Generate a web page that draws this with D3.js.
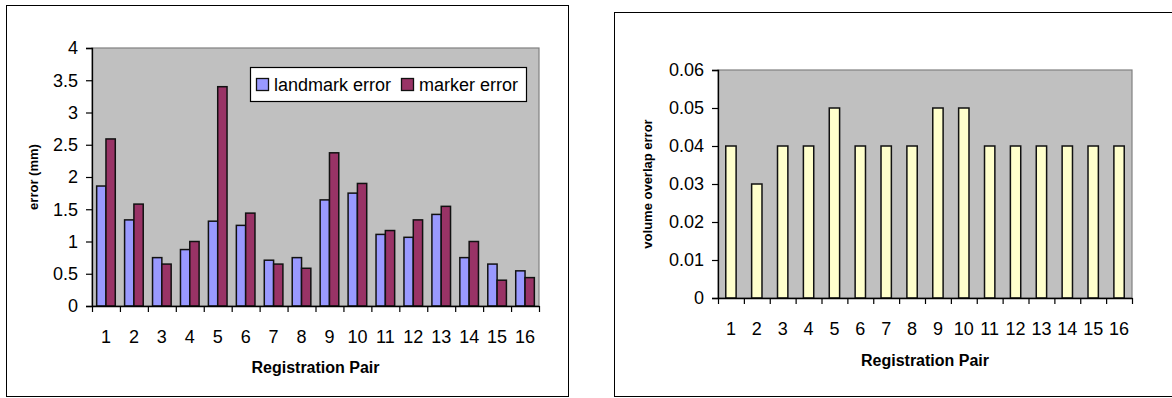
<!DOCTYPE html>
<html>
<head>
<meta charset="utf-8">
<script src="https://cdn.jsdelivr.net/npm/d3@7"></script>
<style>
  body { margin: 0; background: #fff; }
  svg text { font-family: "Liberation Sans", Arial, sans-serif; fill: #000; }
</style>
</head>
<body>
<div id="canvas"></div>
<script>
"use strict";

/* ---------------- DATA ---------------- */

let pairs = ["1", "2", "3", "4", "5", "6", "7", "8", "9", "10", "11", "12", "13", "14", "15", "16"];
let seriesNames = ["landmark error", "marker error"];
let landmarkError = [1.86, 1.335, 0.75, 0.875, 1.315, 1.25, 0.71, 0.75, 1.645, 1.75, 1.11, 1.065, 1.42, 0.75, 0.65, 0.545];
let markerError = [2.59, 1.58, 0.65, 1.0, 3.40, 1.44, 0.65, 0.585, 2.375, 1.90, 1.17, 1.335, 1.545, 1.0, 0.40, 0.44];
let overlapError = [0.04, 0.03, 0.04, 0.04, 0.05, 0.04, 0.04, 0.04, 0.05, 0.05, 0.04, 0.04, 0.04, 0.04, 0.04, 0.04];
let leftTicks = [0, 0.5, 1, 1.5, 2, 2.5, 3, 3.5, 4];
let rightTicks = [0, 0.01, 0.02, 0.03, 0.04, 0.05, 0.06];

let svgWidth = 1172;
let svgHeight = 398;

let svg = d3.select("#canvas")
    .append("svg")
    .attr("width", svgWidth)
    .attr("height", svgHeight);

let colors = {
    plot: "#c0c0c0",
    landmark: "#9999ff",
    marker: "#993366",
    overlap: "#ffffcc"
};

let tickFont = "18px";

/* ---------------- SHARED AXIS DRAWING ---------------- */

function drawFrame(box) {
    svg.append("rect")
        .attr("x", box.x + 0.5)
        .attr("y", box.y + 0.5)
        .attr("width", box.w)
        .attr("height", box.h)
        .attr("fill", "#fff")
        .attr("stroke", "#000")
        .attr("stroke-width", 1);
}

function drawPlotArea(p) {
    svg.append("rect")
        .attr("x", p.left)
        .attr("y", p.top)
        .attr("width", p.right - p.left)
        .attr("height", p.bottom - p.top)
        .attr("fill", colors.plot)
        .attr("stroke", "#808080")
        .attr("stroke-width", 1.2);
}

function drawAxes(p, xBand, yScale, tickValues, tickFmt) {

    // y axis
    let yAxis = d3.axisLeft(yScale)
        .tickValues(tickValues)
        .tickSize(6)
        .tickPadding(8)
        .tickFormat(tickFmt);

    let gy = svg.append("g")
        .attr("transform", "translate(" + p.left + ",0)")
        .call(yAxis);
    gy.select(".domain").attr("stroke", "#000").attr("stroke-width", 1.3);
    gy.selectAll("line").attr("stroke", "#000").attr("stroke-width", 1.2);
    gy.selectAll("text")
        .attr("font-size", tickFont)
        .attr("font-family", "Liberation Sans, Arial, sans-serif");

    // category boundary ticks
    let edgeScale = d3.scaleLinear()
        .domain([0, pairs.length])
        .range([p.left, p.right]);

    let gx = svg.append("g")
        .attr("transform", "translate(0," + p.bottom + ")")
        .call(d3.axisBottom(edgeScale)
            .tickValues(d3.range(pairs.length + 1))
            .tickSize(6)
            .tickSizeOuter(0)
            .tickFormat(""));
    gx.select(".domain").attr("stroke", "#000").attr("stroke-width", 1.3);
    gx.selectAll("line").attr("stroke", "#000").attr("stroke-width", 1.2);

    // category labels
    let gl = svg.append("g")
        .attr("transform", "translate(0," + (p.bottom + 31) + ")")
        .call(d3.axisBottom(xBand).tickSize(0).tickPadding(0));
    gl.select(".domain").remove();
    gl.selectAll("text")
        .attr("y", 0)
        .attr("dy", "0.36em")
        .attr("font-size", tickFont)
        .attr("font-family", "Liberation Sans, Arial, sans-serif");
}

function drawTitles(p, xTitle, yTitle, xTitleY, yTitleX) {
    svg.append("text")
        .attr("x", (p.left + p.right) / 2)
        .attr("y", xTitleY)
        .attr("dy", "0.36em")
        .attr("text-anchor", "middle")
        .attr("font-size", "16px")
        .attr("font-weight", "bold")
        .text(xTitle);

    svg.append("text")
        .attr("transform", "translate(" + yTitleX + "," + ((p.top + p.bottom) / 2) + ") rotate(-90)")
        .attr("dy", "0.36em")
        .attr("text-anchor", "middle")
        .attr("font-size", "13px")
        .attr("font-weight", "bold")
        .text(yTitle);
}

/* ---------------- LEFT CHART ---------------- */

function drawLeftChart() {

    let p = { left: 92, top: 48, right: 539, bottom: 306 };

    drawFrame({ x: 6, y: 5, w: 562, h: 391 });
    drawPlotArea(p);

    let xBand = d3.scaleBand()
        .domain(pairs)
        .range([p.left, p.right])
        .paddingInner(1 / 3)
        .paddingOuter(1 / 6);

    let xSeries = d3.scaleBand()
        .domain(seriesNames)
        .range([0, xBand.bandwidth()]);

    let yScale = d3.scaleLinear()
        .domain([0, 4])
        .range([p.bottom, p.top]);

    let rows = pairs.map(function (d, i) {
        return { pair: d, values: [landmarkError[i], markerError[i]] };
    });

    let groups = svg.append("g")
        .selectAll("g")
        .data(rows)
        .join("g")
        .attr("transform", function (d) { return "translate(" + xBand(d.pair) + ",0)"; });

    groups.selectAll("rect")
        .data(function (d) {
            return d.values.map(function (v, j) { return { name: seriesNames[j], value: v }; });
        })
        .join("rect")
        .attr("x", function (d) { return xSeries(d.name); })
        .attr("y", function (d) { return yScale(d.value); })
        .attr("width", xSeries.bandwidth())
        .attr("height", function (d) { return yScale(0) - yScale(d.value); })
        .attr("fill", function (d) { return d.name === seriesNames[0] ? colors.landmark : colors.marker; })
        .attr("stroke", "#111")
        .attr("stroke-width", 1.5);

    drawAxes(p, xBand, yScale, leftTicks, function (d) { return d; });
    drawTitles(p, "Registration Pair", "error (mm)", 367, 33);

    /* legend */
    let legend = svg.append("g").attr("transform", "translate(250,67)");

    legend.append("rect")
        .attr("x", 0.5)
        .attr("y", 0.5)
        .attr("width", 276)
        .attr("height", 34)
        .attr("fill", "#fff")
        .attr("stroke", "#000")
        .attr("stroke-width", 1.2);

    let legendX = [6, 151];
    seriesNames.forEach(function (name, i) {
        legend.append("rect")
            .attr("x", legendX[i] + 0.5)
            .attr("y", 11.5)
            .attr("width", 12)
            .attr("height", 12)
            .attr("fill", i === 0 ? colors.landmark : colors.marker)
            .attr("stroke", "#111")
            .attr("stroke-width", 1.3);

        legend.append("text")
            .attr("x", legendX[i] + 18)
            .attr("y", 17.5)
            .attr("dy", "0.36em")
            .attr("font-size", "18px")
            .text(name);
    });
}

/* ---------------- RIGHT CHART ---------------- */

function drawRightChart() {

    let p = { left: 718, top: 70, right: 1132, bottom: 298 };

    drawFrame({ x: 614, y: 12, w: 570, h: 384 });
    drawPlotArea(p);

    let xBand = d3.scaleBand()
        .domain(pairs)
        .range([p.left, p.right])
        .paddingInner(0.6)
        .paddingOuter(0.3);

    let yScale = d3.scaleLinear()
        .domain([0, 0.06])
        .range([p.bottom, p.top]);

    svg.append("g")
        .selectAll("rect")
        .data(overlapError)
        .join("rect")
        .attr("x", function (d, i) { return xBand(pairs[i]); })
        .attr("y", function (d) { return yScale(d); })
        .attr("width", xBand.bandwidth())
        .attr("height", function (d) { return yScale(0) - yScale(d); })
        .attr("fill", colors.overlap)
        .attr("stroke", "#111")
        .attr("stroke-width", 1.5);

    drawAxes(p, xBand, yScale, rightTicks, function (d) {
        return d === 0 ? "0" : d3.format(".2f")(d);
    });
    drawTitles(p, "Registration Pair", "volume overlap error", 360, 647);
}

drawLeftChart();
drawRightChart();
</script>
</body>
</html>
